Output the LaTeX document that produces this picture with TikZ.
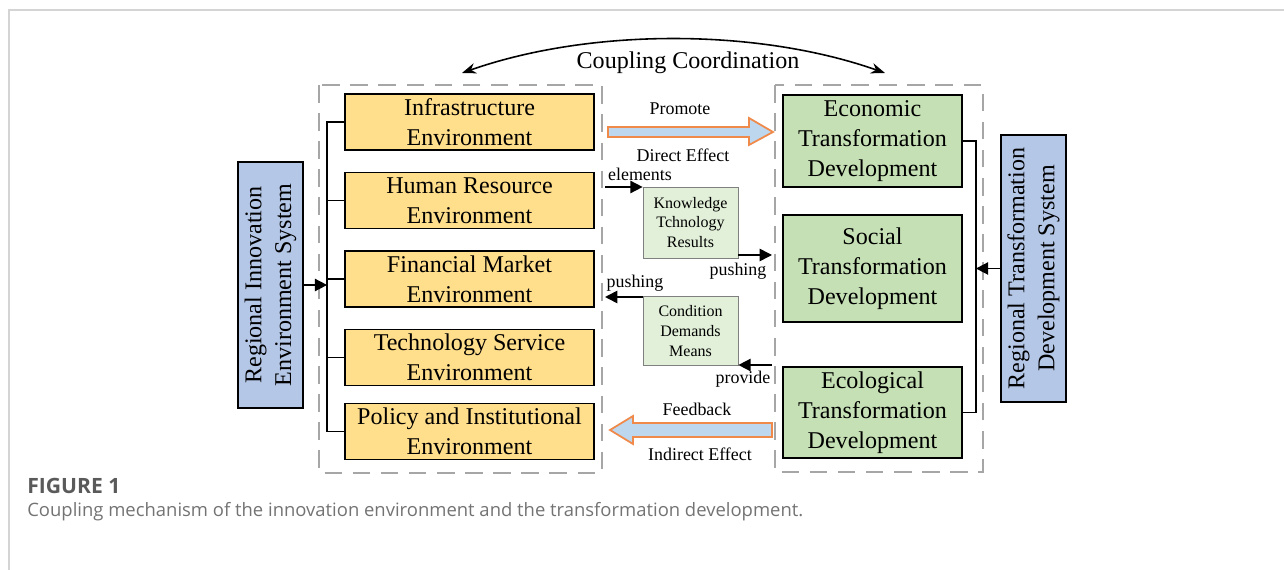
\documentclass[tikz,border=0pt]{standalone}
\usepackage{fontspec}
\setmainfont{Liberation Serif}
\newfontfamily\capfont{Open Sans}
\usetikzlibrary{arrows.meta}
\definecolor{envyellow}{RGB}{255,222,140}
\definecolor{devgreen}{RGB}{197,224,180}
\definecolor{lightgreen}{RGB}{226,240,217}
\definecolor{sysblue}{RGB}{180,199,231}
\definecolor{arrowblue}{RGB}{189,215,238}
\definecolor{arroworange}{RGB}{240,138,75}
\definecolor{dashgray}{RGB}{166,166,166}
\definecolor{framegray}{RGB}{212,212,212}
\definecolor{capgray}{RGB}{90,90,90}

\begin{document}
\begin{tikzpicture}[x=0.02cm, y=-0.02cm,
    envbox/.style={draw, line width=1pt, fill=envyellow, minimum width=4.98cm,
      minimum height=1.12cm, inner sep=0pt, align=center,
      font=\fontsize{13.7}{17}\selectfont},
    devbox/.style={draw, line width=1pt, fill=devgreen, minimum width=3.58cm,
      inner sep=0pt, align=center, font=\fontsize{13.7}{17}\selectfont},
    sysbox/.style={draw, line width=1pt, fill=sysblue, rotate=90, minimum height=1.3cm,
      inner sep=0pt, align=center, font=\fontsize{13.7}{17}\selectfont},
    midbox/.style={draw=gray, fill=lightgreen, minimum width=1.9cm, inner sep=0pt,
      align=center, font=\fontsize{9.1}{11.3}\selectfont},
    tag/.style={font=\fontsize{10.2}{12}\selectfont, inner sep=0pt},
    group/.style={draw=dashgray, line width=1.4pt, dash pattern=on 10pt off 6pt},
    link/.style={line width=0.9pt},
    tip/.style={line width=0.9pt, -{Triangle[length=7pt,width=7pt]}},
    bigarrow/.style={draw=arroworange, line width=1pt, fill=arrowblue}
  ]
  \useasboundingbox (0,0) rectangle (1284,570);
  \draw[framegray, line width=0.8pt] (9,570) -- (9,10) -- (1284,10);

  % dashed groups
  \draw[group] (319,85) rectangle (602,473);
  \draw[group] (775,85) rectangle (983,472);

  % innovation environment side
  \node[sysbox, minimum width=4.92cm] (ries) at (270.5,285) {Regional Innovation\\Environment System};
  \node[envbox] (env1) at (469.5,122) {Infrastructure\\Environment};
  \node[envbox] (env2) at (469.5,200.5) {Human Resource\\Environment};
  \node[envbox] (env3) at (469.5,279) {Financial Market\\Environment};
  \node[envbox] (env4) at (469.5,357.5) {Technology Service\\Environment};
  \node[envbox] (env5) at (469.5,431.5) {Policy and Institutional\\Environment};
  \draw[link] (env1.west) -- ++(-17,0) coordinate (lspine) |- (env5.west);
  \foreach \i in {2,3,4}
    \draw[link] (env\i.west) -- (env\i.west -| lspine);
  \draw[tip] (ries.south) -- (ries.south -| lspine);

  % transformation development side
  \node[sysbox, minimum width=5.34cm] (rtds) at (1033.5,268.5) {Regional Transformation\\Development System};
  \node[devbox, minimum height=1.84cm] (dev1) at (872.5,141) {Economic\\Transformation\\Development};
  \node[devbox, minimum height=2.14cm] (dev2) at (872.5,268.5) {Social\\Transformation\\Development};
  \node[devbox, minimum height=1.82cm] (dev3) at (872.5,412.5) {Ecological\\Transformation\\Development};
  \draw[link] (dev1.east) -- ++(13,0) coordinate (rspine) |- (dev3.east);
  \draw[tip] (rtds.north) -- (rtds.north -| rspine);

  % coupling coordination
  \coordinate (cl) at (462,73);
  \coordinate (cr) at (885,73);
  \draw[line width=0.9pt, {Stealth[length=8pt]}-{Stealth[length=8pt]}] (cl) .. controls (590,28) and (757,28) .. (cr);
  \node[font=\fontsize{13.7}{17}\selectfont] (cc) at (688,63) {Coupling Coordination};

  % direct effect
  \draw[bigarrow] (608,127) -- (749,127) -- (749,118) -- (773,132) -- (749,145) -- (749,137) -- (608,137) -- cycle;
  \node[tag] (prom) at (680,109) {Promote};
  \node[tag] (direct) at (683,155) {Direct Effect};

  % indirect effect
  \draw[bigarrow] (772,423) -- (633,423) -- (633,416) -- (610,430) -- (633,444) -- (633,437) -- (772,437) -- cycle;
  \node[tag] (feed) at (697,409) {Feedback};
  \node[tag] (indirect) at (700,454) {Indirect Effect};

  % knowledge and condition
  \node[midbox, minimum height=1.42cm] (know) at (690.5,222.5) {Knowledge\\Tchnology\\Results};
  \node[midbox, minimum height=1.38cm] (cond) at (690.5,331) {Condition\\Demands\\Means};
  \coordinate (ein) at (605,187);
  \coordinate (kout) at (772,255);
  \coordinate (cout) at (605,297);
  \coordinate (pin) at (772,365);
  \draw[tip] (ein) -- (ein -| know.west);
  \draw[tip] (know.east |- kout) -- (kout);
  \draw[tip] (cond.west |- cout) -- (cout);
  \draw[tip] (pin) -- (pin -| cond.east);
  \node[tag] (elem) at (640,174) {elements};
  \node[tag] (push1) at (738,271) {pushing};
  \node[tag] (push2) at (635,283) {pushing};
  \node[tag] (prov) at (743,379) {provide};

  % caption
  \node[anchor=base west, inner sep=0pt, text=capgray, font=\capfont\bfseries\fontsize{12}{14}\selectfont] (fig) at (27,494) {FIGURE 1};
  \node[anchor=base west, inner sep=0pt, text=capgray!85, font=\capfont\fontsize{10.5}{13}\selectfont] (cap) at (27,516) {Coupling mechanism of the innovation environment and the transformation development.};
\end{tikzpicture}
\end{document}
